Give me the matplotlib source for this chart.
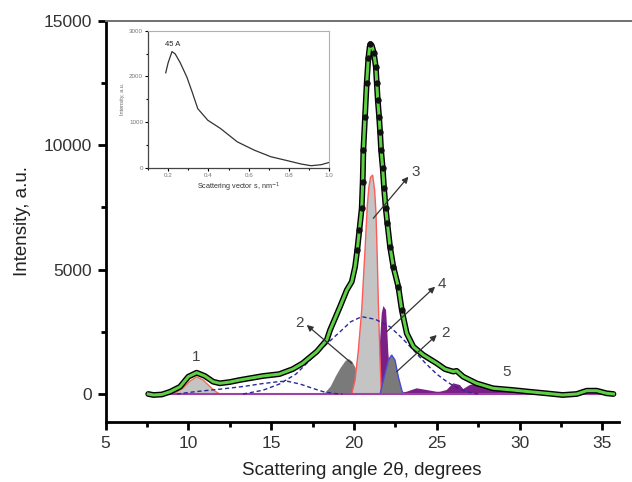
import matplotlib
matplotlib.use("Agg")
import matplotlib.pyplot as plt
from matplotlib.lines import Line2D
from matplotlib.ticker import MultipleLocator

plt.rcParams['font.family'] = ['Liberation Sans', 'DejaVu Sans']

# ---------------- data ----------------
curve_x = [7.58, 7.9, 8.4, 8.9, 9.5, 10.0, 10.5, 11.0, 11.5, 11.9, 12.5, 13.1, 14.5, 15.5, 16.3, 16.9,
           17.75, 18.36, 18.56, 19.16, 19.57, 19.87, 20.07, 20.2, 20.33, 20.47, 20.53, 20.57, 20.67,
           20.77, 20.87, 20.95, 21.0, 21.08, 21.2, 21.32, 21.38, 21.44, 21.52, 21.58, 21.64, 21.74,
           21.82, 21.92, 22.02, 22.18, 22.38, 22.68, 22.89, 23.19, 23.59, 24.19, 25.0, 25.5, 26.0,
           26.2, 26.6, 27.4, 28.4, 29.6, 30.6, 31.6, 32.6, 33.45, 34.06, 34.66, 35.26, 35.67]
curve_y = [0, -40, -20, 90, 290, 695, 856, 723, 494, 430, 480, 562, 723, 800, 1000, 1233,
           1700, 2170, 2571, 3508, 4178, 4512, 5115, 5785, 6589, 7460, 8530, 9803, 11141,
           12483, 13487, 13950, 14062, 14000, 13713, 13150, 12483, 11812, 11141, 10539, 9803, 9068,
           8264, 7460, 6858, 5918, 5115, 4311, 3375, 2439, 1900, 1567, 1233, 1000, 900,
           930, 695, 430, 229, 160, 92, 28, -40, 0, 133, 133, 28, 0]

dots_x = [20.2, 20.33, 20.47, 20.53, 20.57, 20.67, 20.77, 20.87, 21.0, 21.2, 21.32, 21.38, 21.44,
          21.52, 21.58, 21.64, 21.74, 21.82, 21.92, 22.02, 22.18, 22.38, 22.68, 22.89]
dots_y = [5785, 6589, 7460, 8530, 9803, 11141, 12483, 13487, 14062, 13713, 13150, 12483, 11812,
          11141, 10539, 9803, 9068, 8264, 7460, 6858, 5918, 5115, 4311, 3375]

# peak 1 (light gray, red outline)
p1_x = [8.9, 9.3, 9.7, 10.1, 10.5, 10.9, 11.3, 11.6, 11.9]
p1_y = [0, 80, 250, 520, 690, 560, 300, 120, 0]

# peak 2 left (dark gray)
p2a_x = [18.2, 18.6, 18.9, 19.2, 19.5, 19.7, 19.9, 20.1, 20.3]
p2a_y = [0, 300, 700, 1050, 1330, 1400, 1300, 1050, 0]

# peak 2 right (dark gray, blue outline)
p2b_x = [21.58, 21.88, 22.08, 22.28, 22.48, 22.68, 22.9, 23.0]
p2b_y = [0, 830, 1366, 1567, 1366, 695, 130, 0]

# peak 3 (light gray, red outline)
p3_x = [19.87, 20.07, 20.27, 20.47, 20.67, 20.81, 20.9, 21.0, 21.13, 21.25, 21.33, 21.41, 21.47,
        21.53, 21.58, 21.65]
p3_y = [0, 560, 1770, 3375, 5785, 7600, 8300, 8700, 8800, 8200, 7300, 5500, 3800, 2440, 1370, 0]

# peak 4 + 5 (purple)
p4_x = [21.27, 21.47, 21.58, 21.68, 21.78, 21.94, 22.02, 22.08, 22.18, 22.28, 22.5, 22.8, 23.19,
        23.79, 24.4, 25.0, 25.2, 25.6, 26.0, 26.4, 26.6, 27.0, 27.4, 28.4, 29.6, 30.6, 31.6, 32.6,
        33.45, 34.06, 34.66, 35.26, 35.67]
p4_y = [0, 1097, 2170, 3242, 3535, 3375, 2439, 1635, 830, 268, 0, 40, 92,
        229, 160, 90, 92, 160, 430, 361, 200, 361, 430, 293, 229, 160, 92, 30,
        30, 160, 130, 30, 0]

# dashed broad components
d1_x = [13.3, 14.5, 15.5, 16.5, 17.55, 18.5, 19.16, 19.8, 20.47, 21.3, 22.18, 22.9, 23.59, 24.3,
        25.0, 25.5, 26.0, 26.5, 27.0, 27.5]
d1_y = [0, 150, 400, 800, 1500, 2100, 2500, 2900, 3107, 3000, 2700, 2250, 1768, 1250,
        800, 550, 330, 170, 60, 0]
d2_x = [9.3, 10.5, 12.0, 13.3, 14.5, 15.5, 16.0, 16.75, 17.5, 18.15, 18.8, 19.3]
d2_y = [0, 100, 200, 300, 420, 500, 510, 400, 230, 92, 20, 0]

# inset (SAXS)
s_x = [0.188, 0.2, 0.219, 0.235, 0.26, 0.293, 0.32, 0.347, 0.397, 0.46, 0.543, 0.627, 0.71,
       0.793, 0.86, 0.91, 0.96, 1.0]
s_y = [2080, 2300, 2543, 2493, 2300, 1985, 1650, 1297, 1043, 863, 572, 391, 246,
       159, 87, 50, 72, 123]

x_ticks = [5, 10, 15, 20, 25, 30, 35]
y_ticks = [0, 5000, 10000, 15000]

# ---------------- figure ----------------
W, H = 632, 482
fig = plt.figure(figsize=(W / 100, H / 100), dpi=100)
L, R, T, B = 105.5, 618.9, 20.7, 421.7
ax = fig.add_axes([L / W, 1 - B / H, (R - L) / W, (B - T) / H])
ax.set_xlim(5, 36)
ax.set_ylim(-1113, 15000)

gray_d = '#7a7a7a'
gray_l = '#c4c4c4'
purple = '#7a1f86'

ax.fill(p4_x, p4_y, color=purple, lw=0, zorder=2)
ax.fill(p2a_x, p2a_y, color=gray_d, lw=0, zorder=2)
ax.fill(p3_x, p3_y, facecolor=gray_l, edgecolor='#ff5a5a', lw=1.0, zorder=3)
ax.fill(p2b_x, p2b_y, facecolor=gray_d, edgecolor='#4a4ad0', lw=1.0, zorder=3)
ax.fill(p1_x, p1_y, facecolor=gray_l, edgecolor='#f07050', lw=1.0, zorder=3)
ax.plot([7.6, 35.7], [0, 0], color='#a040a8', lw=1.5, zorder=3)

ax.plot(d1_x, d1_y, color='#2a2a9a', lw=1.0, ls=(0, (3, 2)), zorder=4)
ax.plot(d2_x, d2_y, color='#2a2a9a', lw=1.0, ls=(0, (3, 2)), zorder=4)

ax.plot(curve_x, curve_y, color='black', lw=4.2, solid_capstyle='round', zorder=5)
ax.plot(curve_x, curve_y, color='#5fcf45', lw=2.2, zorder=6)
ax.plot(dots_x, dots_y, ls='none', marker='o', ms=3.6, color='#111111', zorder=7)

# annotations
acol = '#333333'
tcol = '#444444'
def arrow(tail, head):
    ax.annotate('', xy=head, xytext=tail,
                arrowprops=dict(arrowstyle='-|>', color=acol, lw=0.9,
                                mutation_scale=9, shrinkA=0, shrinkB=0), zorder=8)

arrow((21.17, 7060), (23.29, 8730))
ax.text(23.75, 8930, '3', fontsize=11, color=tcol, ha='center', va='center')
arrow((21.98, 2503), (24.9, 4311))
ax.text(25.3, 4400, '4', fontsize=11, color=tcol, ha='center', va='center')
arrow((22.58, 896), (25.0, 2370))
ax.text(25.5, 2470, '2', fontsize=11, color=tcol, ha='center', va='center')
arrow((19.87, 1233), (17.15, 2772))
ax.text(16.7, 2850, '2', fontsize=11, color=tcol, ha='center', va='center')
ax.text(10.5, 1500, '1', fontsize=11, color=tcol, ha='center', va='center')
ax.text(29.2, 896, '5', fontsize=11, color=tcol, ha='center', va='center')

# axes styling
for s in ['top', 'right']:
    ax.spines[s].set_visible(False)
for s in ['left', 'bottom']:
    ax.spines[s].set_linewidth(2.0)
ax.set_xticks(x_ticks)
ax.set_yticks(y_ticks)
ax.xaxis.set_minor_locator(MultipleLocator(2.5))
ax.yaxis.set_minor_locator(MultipleLocator(2500))
ax.tick_params(which='major', direction='out', length=6, width=2, labelsize=12.5,
               labelcolor='#333333', pad=4)
ax.tick_params(which='minor', direction='out', length=3.5, width=2)
ax.set_xlabel('Scattering angle 2θ, degrees', fontsize=13.5, color='#222222', labelpad=8)
ax.set_ylabel('Intensity, a.u.', fontsize=13.5, color='#222222', labelpad=9)

fig.add_artist(Line2D([L / W, 1.0], [1 - T / H, 1 - T / H], color='#707070', lw=1.4))

# inset
ia = fig.add_axes([148 / W, 1 - 168 / H, (329.3 - 148) / W, (168 - 30.7) / H])
ia.plot(s_x, s_y, color='#333333', lw=0.9)
ia.set_xlim(0.1, 1.0)
ia.set_ylim(0, 3000)
ia.set_xticks([0.2, 0.4, 0.6, 0.8, 1.0])
ia.set_xticklabels(['0.2', '0.4', '0.6', '0.8', '1.0'])
ia.set_yticks([0, 1000, 2000, 3000])
ia.xaxis.set_minor_locator(MultipleLocator(0.1))
ia.yaxis.set_minor_locator(MultipleLocator(500))
ia.tick_params(which='both', direction='out', length=2, width=0.8, labelsize=4.5,
               labelcolor='#777777', pad=1.5)
ia.tick_params(which='minor', length=1.2)
for s in ['top', 'right']:
    ia.spines[s].set_color('#b0b0b0')
    ia.spines[s].set_linewidth(0.8)
for s in ['left', 'bottom']:
    ia.spines[s].set_color('#444444')
    ia.spines[s].set_linewidth(0.9)
ia.set_xlabel('Scattering vector s, nm$^{-1}$', fontsize=5.2, color='#333333', labelpad=2)
ia.set_ylabel('Intensity, a.u.', fontsize=4, color='#666666', labelpad=3)
ia.text(0.225, 2700, '45 A', fontsize=5.5, color='#222222', ha='center', va='center')

fig.savefig('out.png', dpi=100)
